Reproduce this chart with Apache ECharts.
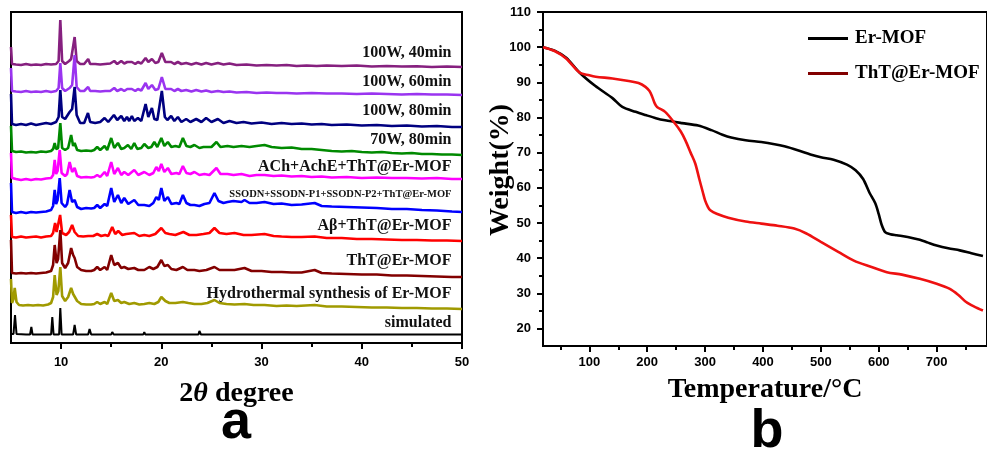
<!DOCTYPE html>
<html>
<head>
<meta charset="utf-8">
<script src="https://cdn.jsdelivr.net/npm/echarts@6/dist/echarts.min.js"></script>
<style>
  html, body { margin: 0; padding: 0; background: #fff; }
  #chart { width: 987px; height: 450px; }
</style>
</head>
<body>
<div id="chart"></div>
<script>
// ---------- (a) PXRD patterns: [2θ, intensity above the pattern's own baseline] ----------
const xrdNames = [
  '100W, 40min', '100W, 60min', '100W, 80min', '70W, 80min',
  'ACh+AchE+ThT@Er-MOF', 'SSODN+SSODN-P1+SSODN-P2+ThT@Er-MOF',
  'Aβ+ThT@Er-MOF', 'ThT@Er-MOF', 'Hydrothermal synthesis of Er-MOF', 'simulated'
];
// vertical stacking offset of every pattern (intensity units)
const xrdOffsets = [276, 248, 216, 188, 164, 131, 102, 66, 34, 8];
// height of each pattern's caption (intensity units)
const xrdLabelLevels = [290, 261, 232, 203, 176, 149, 117, 82, 49, 20];

const p100W40 = [[5.0,20],[5.1,3],[5.5,2.5],[6,2],[6.5,3],[7,2],[7.5,2.5],[8,2],[8.5,3],[9,2.5],[9.5,3],[9.75,6],[9.92,47],[10.1,6],[10.4,3],[10.8,6],[11.0,8],[11.35,30],[11.55,6],[11.9,3],[12.3,3],[12.7,8],[12.9,3],[13.4,3],[13.9,2.5],[14.4,3],[14.9,3.5],[15.3,6],[15.6,3],[16.0,6],[16.3,3.5],[16.6,5],[17.06,5],[17.4,3],[17.66,5],[18.0,3.5],[18.43,9],[18.7,5],[19.06,8],[19.4,4],[19.7,5],[20.05,14],[20.4,5],[20.98,5],[21.3,3],[21.65,5],[22.0,3],[22.48,4],[23.0,2.5],[23.48,4],[24.0,2.5],[24.47,4],[25.0,2.5],[25.64,4],[26.2,2.5],[26.8,3.5],[27.5,2],[28.5,2.5],[29.5,1.5],[30.5,2],[31.5,1.5],[32.5,2],[33.5,1],[34.5,1.5],[35.5,1],[36.5,1.5],[38,1],[39.5,1.5],[41,0.5],[42.5,1],[44,0.5],[45.5,0.8],[47,0],[48.5,0.5],[50,0]];
const p100W60 = [[5.0,27],[5.1,4],[5.5,3.5],[6,3],[6.5,4],[7,3],[7.5,3.5],[8,3],[8.5,4],[9,3],[9.5,4],[9.75,7],[9.92,32],[10.1,7],[10.4,4],[10.85,7],[11.1,10],[11.35,40],[11.55,8],[11.9,4],[12.3,4],[12.7,8],[12.9,4],[13.4,4],[13.9,3.5],[14.4,4],[14.9,4],[15.3,7],[15.6,4],[16.0,6],[16.3,4],[16.6,6],[17.06,6],[17.4,4],[17.66,6],[18.0,4.5],[18.43,12],[18.7,6],[19.06,10],[19.4,5],[19.7,6],[20.05,18],[20.4,6],[20.98,6],[21.3,4],[21.65,6],[22.0,4],[22.48,5],[23.0,3.5],[23.48,5],[24.0,3.5],[24.47,4.5],[25.0,3],[25.64,4],[26.2,3],[26.8,3.5],[27.5,2.5],[28.5,3],[29.5,2],[30.5,2.5],[31.5,2],[32.5,2],[33.5,1.5],[35,2],[36.5,1.5],[38,1.5],[39.5,1],[41,1.5],[42.5,1],[44,0.5],[45.5,1],[47,0.5],[48.5,0.5],[50,0]];
const p100W80 = [[5.0,33],[5.1,3],[5.5,2],[6,3],[6.5,2],[7,3.5],[7.5,2],[8,3],[8.5,4],[9,3],[9.5,5],[9.75,10],[9.92,37],[10.1,10],[10.4,8],[10.85,15],[11.1,18],[11.35,40],[11.55,12],[11.9,4],[12.3,4],[12.68,14],[12.9,5],[13.4,4],[13.9,5],[14.34,9],[14.7,5],[15.27,12],[15.6,7],[16.0,11],[16.3,6],[16.57,10],[16.8,6],[17.06,11],[17.3,6],[17.66,9],[18.0,6],[18.43,23],[18.7,10],[19.06,19],[19.3,8],[19.6,7],[20.05,36],[20.35,10],[20.6,7],[20.98,11],[21.3,6],[21.65,10],[22.0,5],[22.48,8],[22.9,5],[23.48,8],[24.0,5],[24.47,9],[25.0,5],[25.64,8],[26.2,4],[26.8,6],[27.5,4],[28.2,5],[29,3.5],[30,4.5],[31,3],[32,4],[33,3],[34,3.5],[35,2.5],[36,3],[37,2],[38.5,2.5],[40,1.5],[41.5,2],[43,1],[44.5,1.5],[46,0.5],[47.5,1],[49,0],[50,0]];
const p70W80 = [[5.0,29],[5.1,4],[5.5,3],[6,3.5],[6.5,2.5],[7,3],[7.5,2.5],[8,3.5],[8.5,3],[9.0,4],[9.2,6],[9.36,12],[9.5,6],[9.7,7],[9.92,32],[10.1,7],[10.4,5],[10.7,7],[11.0,20],[11.2,9],[11.35,12],[11.6,5],[12.0,4],[12.5,4.5],[13.0,4],[13.3,5],[13.6,8],[13.9,5],[14.34,9],[14.6,5],[15.0,17],[15.3,7],[15.67,12],[16.0,6],[16.3,7],[16.67,10],[17.0,6],[17.3,12],[17.6,6],[18.0,7],[18.3,11],[18.7,7],[19.0,8],[19.3,13],[19.6,8],[20.0,17],[20.3,9],[20.65,13],[21.0,8],[21.4,9],[21.8,8],[22.15,17],[22.5,9],[22.9,8],[23.3,10],[23.8,7],[24.2,8],[24.6,8],[25.0,8],[25.5,13],[25.9,8],[26.6,9],[27.2,8],[28.0,9],[28.8,8],[29.5,9],[30.3,10],[31.0,8],[32,7],[33,7.5],[34,6],[35,6],[36,5],[37,4],[38,3.5],[39,4],[40,3],[41,2.5],[42,3],[43,2],[44,1.5],[45,2],[46,1],[47,1],[48,0.5],[49,0.5],[50,0]];
const pACh = [[5.0,26],[5.1,1],[5.5,0],[6,-1],[6.5,0],[7,-1],[7.5,0],[8,-0.5],[8.5,0.5],[9.0,1],[9.2,4],[9.36,19],[9.5,5],[9.65,8],[9.86,29],[10.05,6],[10.4,3],[10.6,5],[10.85,17],[11.1,7],[11.35,11],[11.6,3],[12.0,1.5],[12.5,2],[13.0,1.5],[13.3,2],[13.6,4],[13.9,2],[14.34,7],[14.6,3],[15.0,17],[15.3,5],[15.67,11],[16.0,4],[16.3,7],[16.7,4],[17.3,9],[17.7,4],[18.3,7],[18.8,4],[19.2,6],[19.5,12],[19.75,8],[20.0,15],[20.3,7],[20.65,11],[21.0,5],[21.5,6],[21.8,5],[22.15,13],[22.5,6],[22.9,5],[23.3,7],[23.8,4],[24.3,5],[24.8,4],[25.5,11],[25.9,5],[26.6,5],[27.2,4],[28,5],[28.8,3],[29.5,4],[30.3,4],[31.2,3],[32,3.5],[33,2.5],[34,3],[35,2],[36,2.5],[37,1.5],[38.5,2],[40,1],[41.5,1.5],[43,1],[44.5,1],[46,0.5],[47.5,1],[49,0],[50,0]];
const pSSODN = [[5.0,29],[5.1,0],[5.5,-1],[6,0],[6.5,-1],[7,0],[7.5,-0.5],[8,0],[8.5,0.5],[9.0,2],[9.2,6],[9.36,22],[9.5,8],[9.65,12],[9.86,34],[10.05,9],[10.4,5],[10.6,8],[10.85,22],[11.1,10],[11.35,12],[11.6,5],[12.0,3],[12.5,4],[13.0,3.5],[13.3,4],[13.6,7],[13.9,4],[14.34,8],[14.6,6],[15.0,24],[15.3,10],[15.67,17],[16.0,9],[16.3,14],[16.7,8],[17.3,12],[17.7,7],[18.3,7],[18.8,6],[19.2,9],[19.5,15],[19.75,12],[20.0,24],[20.3,11],[20.65,15],[21.0,8],[21.5,9],[21.8,8],[22.15,17],[22.5,9],[22.9,7],[23.3,7],[23.8,6],[24.3,8],[24.8,9],[25.3,19],[25.7,11],[26.2,9],[26.6,10],[27.2,11],[28,10],[28.3,12],[28.8,9],[29.5,9],[30.3,10],[31.2,8],[32,8.5],[33,7],[34,7.5],[35.3,9],[36,6],[37,5.5],[38.5,5],[40,4.5],[41.5,4],[43,3],[44.5,3],[46,2],[47.5,1.5],[49,0.5],[50,0]];
const pAbeta = [[5.0,26],[5.1,4],[5.5,3.5],[6,4.5],[6.5,3.5],[7,4],[7.5,4.5],[8,3.5],[8.5,4.5],[9.0,5],[9.2,8],[9.4,18],[9.55,9],[9.7,11],[9.9,26],[10.1,8],[10.5,6],[10.8,9],[11.1,16],[11.35,9],[11.7,5],[12.2,4.5],[12.7,5],[13.2,5],[13.6,7],[14.0,5],[14.4,6],[14.7,5],[15.1,14],[15.4,7],[15.7,10],[16.1,6],[16.5,7],[17.3,8],[17.8,5],[18.3,6],[18.8,5],[19.4,7],[20.0,13],[20.4,8],[20.8,7],[21.4,6],[22.2,9],[22.8,6],[23.5,6],[24.2,7],[24.8,8],[25.3,13],[25.8,8],[26.5,7],[27.3,8],[28.2,6],[29.0,6],[30.3,7],[31.2,5],[32,4.5],[33,4],[34,4],[35.3,4.5],[36.5,3],[38,3],[39.5,2],[41,2],[42.5,1.5],[44,1],[45.5,1],[47,0.5],[48.5,0.5],[50,0]];
const pThT = [[5.0,37],[5.1,4],[5.5,3.5],[6,4],[6.5,3.5],[7,4],[7.5,3.5],[8,4],[8.5,4.5],[9.0,6],[9.2,12],[9.36,32],[9.55,14],[9.7,18],[9.92,47],[10.1,14],[10.4,9],[10.7,14],[11.0,29],[11.2,22],[11.35,19],[11.6,10],[12.0,7],[12.5,6],[13.0,6],[13.3,7],[13.6,10],[13.9,7],[14.34,10],[14.6,7],[15.0,22],[15.3,12],[15.67,14],[16.0,9],[16.3,10],[16.7,8],[17.3,9],[17.7,7],[18.3,7],[18.8,10],[19.2,8],[19.6,10],[20.0,17],[20.3,11],[20.65,12],[21.0,8],[21.5,7],[22.15,10],[22.6,7],[23.3,7],[23.8,6],[24.5,7],[25.3,10],[25.8,7],[26.5,7],[27.3,7],[28.3,9],[29,6],[30,6],[31,5],[32,5],[33,4.5],[34,4.5],[35.3,7],[36,4],[37,3.5],[38.5,3],[40,2.5],[41.5,2.5],[43,1.5],[44.5,1.5],[46,1],[47.5,0.5],[49,0],[50,0]];
const pHydro = [[5.0,30],[5.1,6],[5.25,10],[5.37,21],[5.55,7],[5.8,4],[6.2,3.5],[6.7,4],[7.2,3.5],[7.7,4],[8.2,3.5],[8.7,4.5],[9.0,6],[9.2,12],[9.36,34],[9.55,14],[9.72,18],[9.92,42],[10.1,13],[10.4,8],[10.7,12],[11.0,21],[11.2,15],[11.35,16],[11.6,8],[12.0,5],[12.5,4.5],[13.0,4.5],[13.3,5],[13.6,7],[13.9,5],[14.34,7],[14.6,5],[15.0,16],[15.3,8],[15.67,9],[16.0,6],[16.3,7],[16.8,5],[17.3,6],[17.8,4.5],[18.3,5],[18.8,6],[19.3,5],[19.7,7],[20.0,12],[20.4,8],[20.8,6],[21.4,6],[22.15,7],[22.7,6],[23.3,5],[24.0,5],[24.6,6],[25.3,9],[25.8,6],[26.5,5],[27.3,4.5],[28.3,5],[29.2,4],[30.3,4],[31.5,3],[32.5,3.5],[33.5,3],[35.3,4],[36.5,2.5],[38,2.5],[39.5,2],[41,1.5],[42.5,1.5],[44,1],[45.5,1],[47,0.5],[48.5,0.5],[50,0]];
const pSimulated = [[5.0,1],[5.25,1],[5.4,20],[5.55,1],[6.5,0.5],[6.9,0.5],[7.03,8],[7.15,0.5],[8.5,0.5],[9.0,0.5],[9.12,18],[9.25,0.5],[9.8,0.5],[9.92,27],[10.05,0.5],[11.2,0.5],[11.35,10],[11.5,0.5],[12.7,0.5],[12.84,6],[13.0,0.5],[14.2,0.5],[14.3,2],[14.45,0.5],[15.0,0.5],[15.1,3],[15.25,0.5],[15.9,0.5],[16.0,2],[16.1,0.5],[17.0,0.5],[17.1,1.5],[17.2,0.5],[18.2,0.5],[18.3,3],[18.4,0.5],[18.9,0.5],[19.0,2],[19.1,0.5],[20.1,0.5],[20.2,2],[20.3,0.5],[21.2,0.5],[21.3,1.5],[21.4,0.5],[22.4,0.5],[22.5,1.5],[22.6,0.5],[23.7,0.5],[23.8,4],[23.95,0.5],[25.2,0.5],[25.3,1.5],[25.4,0.5],[27,0.5],[27.1,1],[27.2,0.5],[29,0.5],[29.1,1],[29.2,0.5],[33,0.5],[50,0.5]];

const xrdPatterns = [p100W40, p100W60, p100W80, p70W80, pACh, pSSODN, pAbeta, pThT, pHydro, pSimulated];
const xrdTickLabels = [10, 20, 30, 40, 50];
const xrdMinorTicks = [15, 25, 35, 45];

// ---------- (b) TGA curves: [temperature °C, weight %] ----------
const tgaNames = ['Er-MOF', 'ThT@Er-MOF'];
const tgaErMOF = [[20,100],[40,99],[60,97],[83,92.8],[110,89],[140,85.5],[157,83],[180,81.6],[197,80.7],[215,79.8],[231,79.2],[260,78.4],[288,77.7],[311,76.4],[330,75.1],[345,74.3],[370,73.5],[397,73],[420,72.4],[437,71.8],[460,70.7],[482,69.5],[500,68.7],[522,68],[545,66.6],[560,65],[573,62.5],[584,58.6],[594,55.6],[600,52.5],[605,49.5],[611,47.4],[620,46.8],[631,46.5],[650,46],[671,45.2],[685,44.4],[700,43.6],[720,42.8],[740,42.2],[760,41.4],[780,40.6]];
const tgaThTErMOF = [[20,100],[40,98.9],[60,96.8],[83,92.8],[100,92],[111,91.6],[140,91.1],[168,90.4],[185,89.8],[197,88.7],[204,87.5],[208,86.2],[213,84],[217,83],[231,81.6],[248,78.3],[258,76],[266,73.5],[275,70],[283,66.9],[290,62.5],[296,58.8],[300,56.4],[305,54.5],[309,53.6],[320,52.6],[340,51.5],[370,50.4],[397,49.8],[425,49.2],[454,48.4],[475,47],[500,44.6],[530,41.8],[557,39.3],[585,37.6],[614,36],[640,35.3],[671,34.1],[700,32.7],[722,31.3],[737,29.6],[751,27.5],[765,26.2],[780,25.1]];
const tgaTempTicks = [100, 200, 300, 400, 500, 600, 700];
const tgaTempMinor = [50, 150, 250, 350, 450, 550, 650, 750];
const tgaWeightTicks = [20, 30, 40, 50, 60, 70, 80, 90, 100, 110];
const tgaWeightMinor = [25, 35, 45, 55, 65, 75, 85, 95, 105];

// ---------- styling ----------
const xrdColors = ['#86207f', '#9a34f0', '#000080', '#008a00', '#ff00ff', '#0000ff', '#ff0000', '#820000', '#a09a00', '#000000'];
const tgaColors = ['#000000', '#ee1111'];
const SERIF = '"Liberation Serif", "Times New Roman", serif';
const SANS = '"Liberation Sans", Arial, sans-serif';

const chart = echarts.init(document.getElementById('chart'), null, { renderer: 'canvas' });

const tickLabelStyle = { color: '#000', fontFamily: SANS, fontWeight: 'bold', fontSize: 13 };

const xrdSeries = xrdPatterns.map((pts, i) => ({
  name: xrdNames[i],
  type: 'line',
  xAxisIndex: 0,
  yAxisIndex: 0,
  symbol: 'none',
  silent: true,
  color: xrdColors[i],
  lineStyle: { color: xrdColors[i], width: i === 9 ? 2 : 2.6 },
  data: pts.map(p => [p[0], xrdOffsets[i] + p[1]]),
  markPoint: {
    silent: true,
    symbol: 'circle',
    symbolSize: 1,
    itemStyle: { color: 'rgba(0,0,0,0)' },
    label: {
      show: true,
      position: 'left',
      distance: 0,
      color: '#111',
      fontFamily: SERIF,
      fontWeight: 'bold',
      fontSize: i === 5 ? 10.5 : 16,
      formatter: xrdNames[i]
    },
    data: [{ coord: [49.0, xrdLabelLevels[i]] }]
  }
}));

const tgaSeries = [tgaErMOF, tgaThTErMOF].map((pts, i) => ({
  name: tgaNames[i],
  type: 'line',
  xAxisIndex: 2,
  yAxisIndex: 1,
  symbol: 'none',
  smooth: 0.3,
  silent: true,
  color: tgaColors[i],
  lineStyle: { color: tgaColors[i], width: 2.6 },
  itemStyle: { color: tgaColors[i] },
  data: pts
}));

const option = {
  animation: false,
  backgroundColor: '#fff',
  grid: [
    { left: 11, top: 12, width: 451, height: 331, show: true, borderColor: '#000', borderWidth: 2 },
    { left: 543, top: 12, right: -4, height: 334, show: true, borderColor: '#000', borderWidth: 2 }
  ],
  xAxis: [
    {
      gridIndex: 0, type: 'value', min: 5, max: 50,
      axisLine: { show: true, lineStyle: { color: '#000', width: 2 } },
      axisTick: { show: true, length: 6, lineStyle: { color: '#000', width: 2 }, customValues: xrdTickLabels },
      axisLabel: { ...tickLabelStyle, margin: 13, customValues: xrdTickLabels },
      splitLine: { show: false },
      name: '2{i|θ} degree',
      nameLocation: 'middle',
      nameGap: 37,
      nameTextStyle: {
        color: '#000', fontFamily: SERIF, fontWeight: 'bold', fontSize: 28,
        rich: { i: { fontFamily: SERIF, fontStyle: 'italic', fontWeight: 'bold', fontSize: 28, color: '#000' } }
      }
    },
    {
      gridIndex: 0, type: 'value', min: 5, max: 50, position: 'bottom',
      axisLine: { show: false },
      axisTick: { show: true, length: 4, lineStyle: { color: '#000', width: 2 }, customValues: xrdMinorTicks },
      axisLabel: { show: false },
      splitLine: { show: false }
    },
    {
      gridIndex: 1, type: 'value', min: 20, max: 787,
      axisLine: { show: true, lineStyle: { color: '#000', width: 2 } },
      axisTick: { show: true, length: 6, lineStyle: { color: '#000', width: 2 }, customValues: tgaTempTicks },
      axisLabel: { ...tickLabelStyle, margin: 10, customValues: tgaTempTicks },
      splitLine: { show: false },
      name: 'Temperature/°C',
      nameLocation: 'middle',
      nameGap: 30,
      nameTextStyle: { color: '#000', fontFamily: SERIF, fontWeight: 'bold', fontSize: 28 }
    },
    {
      gridIndex: 1, type: 'value', min: 20, max: 787, position: 'bottom',
      axisLine: { show: false },
      axisTick: { show: true, length: 4, lineStyle: { color: '#000', width: 2 }, customValues: tgaTempMinor },
      axisLabel: { show: false },
      splitLine: { show: false }
    }
  ],
  yAxis: [
    {
      gridIndex: 0, type: 'value', min: 0, max: 331,
      axisLine: { show: true, lineStyle: { color: '#000', width: 2 } },
      axisTick: { show: false }, axisLabel: { show: false }, splitLine: { show: false }
    },
    {
      gridIndex: 1, type: 'value', min: 15, max: 110,
      axisLine: { show: true, lineStyle: { color: '#000', width: 2 } },
      axisTick: { show: true, length: 6, lineStyle: { color: '#000', width: 2 }, customValues: tgaWeightTicks },
      axisLabel: { ...tickLabelStyle, margin: 12, customValues: tgaWeightTicks },
      splitLine: { show: false }
    },
    {
      gridIndex: 1, type: 'value', min: 15, max: 110, position: 'left',
      axisLine: { show: false },
      axisTick: { show: true, length: 4, lineStyle: { color: '#000', width: 2 }, customValues: tgaWeightMinor },
      axisLabel: { show: false },
      splitLine: { show: false }
    }
  ],
  legend: {
    data: tgaNames,
    orient: 'vertical',
    left: 808,
    top: 29,
    padding: 0,
    icon: 'rect',
    itemWidth: 40,
    itemHeight: 3,
    itemGap: 16,
    textStyle: { color: '#000', fontFamily: SERIF, fontWeight: 'bold', fontSize: 19, padding: [0, 0, 0, 2] }
  },
  graphic: [
    {
      type: 'text', x: 501, y: 170, rotation: Math.PI / 2,
      style: { text: 'Weight(%)', fill: '#000', font: 'bold 28px ' + SERIF, textAlign: 'center', textVerticalAlign: 'middle' }
    },
    {
      type: 'text', x: 236, y: 423,
      style: { text: 'a', fill: '#000', font: 'bold 54px ' + SANS, textAlign: 'center', textVerticalAlign: 'middle' }
    },
    {
      type: 'text', x: 767, y: 432,
      style: { text: 'b', fill: '#000', font: 'bold 54px ' + SANS, textAlign: 'center', textVerticalAlign: 'middle' }
    }
  ],
  series: xrdSeries.concat(tgaSeries)
};

chart.setOption(option);
</script>
</body>
</html>
